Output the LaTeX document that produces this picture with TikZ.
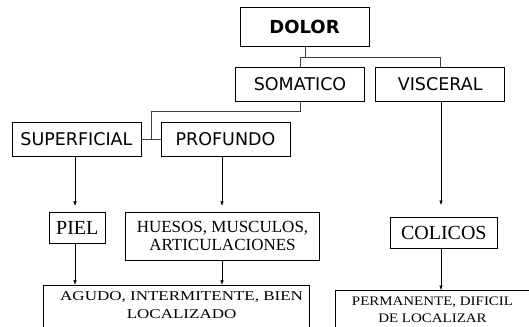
\documentclass[tikz,border=0pt]{standalone}
\usepackage{fontspec}
\setmainfont{Liberation Serif}
\newfontfamily\comicfont{DejaVu Sans}
\usetikzlibrary{positioning}
\usetikzlibrary{arrows.meta}
\tikzset{>={Latex[width=3.5pt,length=4.5pt]}}
\tikzset{
  cbox/.style={draw, line width=0.8pt, inner sep=0pt, minimum width=129pt, minimum height=34pt, font=\comicfont\fontsize{17.5}{20}\selectfont},
  tbox/.style={draw, line width=0.8pt, inner sep=0pt, align=center},
  link/.style={draw, black!75, line width=0.8pt},
  arr/.style={draw, ->, line width=0.5pt},
}
\newcommand{\wide}[2]{\scalebox{#1}[1]{#2}}

\begin{document}
\begin{tikzpicture}[x=1pt, y=-1pt]
\clip (0,0) rectangle (529,326);
\fill [white] (0,0) rectangle (529,326);
\node (D) [cbox, minimum height=39pt, font=\comicfont\bfseries\fontsize{18}{20}\selectfont] at (304.5,26.8) {DOLOR};
\node (S) [cbox] at (300,84.2) {SOMATICO};
\node (V) [cbox] at (440.2,84.2) {VISCERAL};
\node (SUP) [cbox] at (76.4,139) {SUPERFICIAL};
\node (P) [cbox] at (225.5,139) {PROFUNDO};
\node (PIEL) [tbox, minimum width=55.4pt, minimum height=31.4pt, font=\fontsize{20}{22}\selectfont] at (77.3,228) {PIEL};
\node (H) [tbox, minimum width=194pt, minimum height=48pt, font=\fontsize{17}{18}\selectfont] at (222.5,236.2) {HUESOS, MUSCULOS,\\ARTICULACIONES};
\node (C) [tbox, minimum width=107.6pt, minimum height=31pt, font=\fontsize{20}{22}\selectfont] at (443.8,232.9) {COLICOS};
\node (A) [tbox, anchor=north, minimum width=265.5pt, minimum height=70pt] at (176.6,284.8) {};
\node (PE) [tbox, anchor=north west, minimum width=199.4pt, minimum height=70pt] at (334.7,290) {};
\node (At) [font=\fontsize{13.5}{17.6}\selectfont, align=center, anchor=base] at (181.6,318.3) {\wide{1.26}{AGUDO, INTERMITENTE, BIEN}\\\wide{1.26}{LOCALIZADO}};
\node (PEt) [font=\fontsize{13}{16.6}\selectfont, align=center, anchor=base] at (432.5,322.3) {\wide{1.15}{PERMANENTE, DIFICIL}\\\wide{1.15}{DE LOCALIZAR}};

\coordinate (j1) at (305,57.4);
\coordinate (j2) at (151.5,111.3);
\path [link] (D.south -| j1) -- (j1);
\path [link] (S.north) |- (j1) -| (V.north);
\path [link] (S.south) |- (j2) -- (j2 |- SUP.east);
\path [link] (SUP.east) -- (P.west);

\path [arr, shorten >=6pt] (SUP.south -| 75,0) -- (PIEL.north -| 75,0);
\path [arr, shorten >=6pt] (P.south -| 222,0) -- (H.north -| 222,0);
\path [arr, shorten >=12pt] (V.south -| 441,0) -- (C.north -| 441,0);
\path [arr] (PIEL.south -| 75,0) -- (A.north -| 75,0);
\path [arr] (H.south -| 222,0) -- (A.north -| 222,0);
\path [arr] (C.south -| 441,0) -- (PE.north -| 441,0);
\end{tikzpicture}
\end{document}
